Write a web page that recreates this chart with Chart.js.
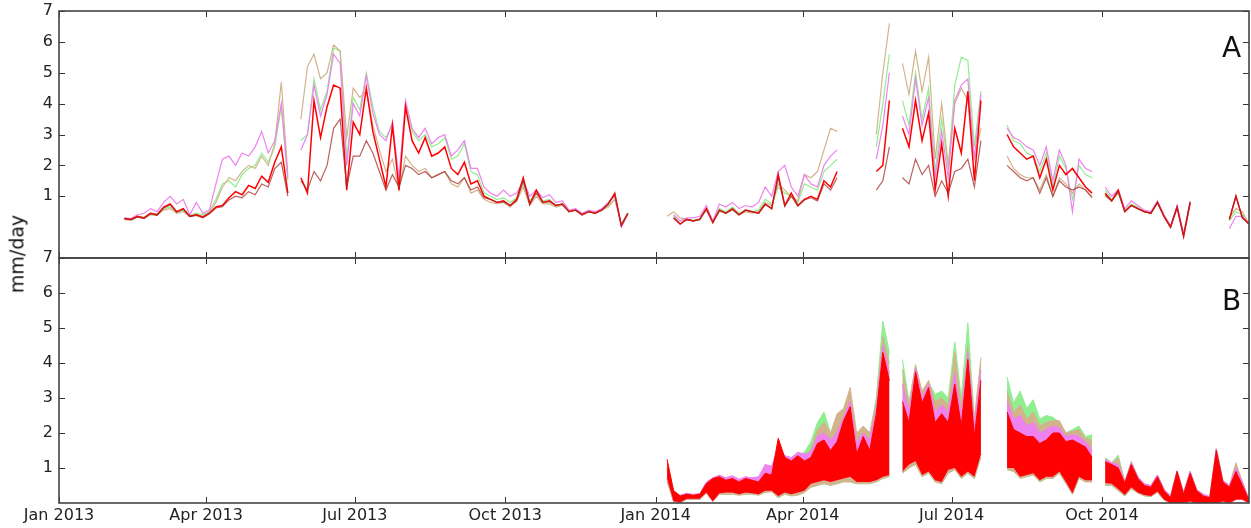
<!DOCTYPE html>
<html><head><meta charset="utf-8">
<script src="https://cdn.jsdelivr.net/npm/chart.js@4.4.1/dist/chart.umd.min.js"></script>
<style>
html,body{margin:0;padding:0;background:#fff;}
#wrap{position:relative;width:1251px;height:528px;overflow:hidden;font-family:"DejaVu Sans",sans-serif;}
canvas{position:absolute;left:0;}
#cA{top:-10px;width:1251px;height:290px;}
#cB{top:240px;width:1251px;height:288px;}
.lbl{position:absolute;line-height:1;color:#111;white-space:nowrap;}
</style></head><body>
<div id="wrap">
<canvas id="cA" width="1251" height="290"></canvas>
<canvas id="cB" width="1251" height="288"></canvas>
<div class="lbl" style="left:1222px;top:34px;font-size:28px;">A</div>
<div class="lbl" style="left:1222px;top:287px;font-size:28px;">B</div>
<div class="lbl" style="left:17px;top:254px;font-size:19px;transform:translate(-50%,-50%) rotate(-90deg);">mm/day</div>
</div>
<script>
const N = null;
// x categories: day number since 1 Jan 2013
const monthDays = [0, 90, 181, 273, 365, 455, 546, 638];
const monthLabels = ['Jan 2013','Apr 2013','Jul 2013','Oct 2013','Jan 2014','Apr 2014','Jul 2014','Oct 2014'];
const yTickVals = [1,2,3,4,5,6,7];
const daysA = Array.from({length:173}, (_, i) => 40 + 4*i);   // 40..728
const daysB = Array.from({length:90}, (_, i) => 372 + 4*i);   // 372..728

// Panel A series (mm/day)
const redA = [0.28,0.25,0.35,0.30,0.45,0.40,0.65,0.75,0.50,0.60, 0.35,0.40,0.32,0.45,0.65,0.70,0.95,1.15,1.05,1.35, 1.25,1.65,1.45,2.10,2.60,1.10,
 N,
 1.6,1.1,4.1,2.9,3.9,4.6,4.5,1.2,3.4,3.0, 4.5,3.1,2.2,1.3,3.3,1.2,3.9,2.8,2.4,2.9, 2.3,2.4,2.6,1.9,1.7,2.1,1.4,1.5,
 1.0,0.9,0.8,0.85,0.7,0.9,1.6,0.75,1.2,0.8, 0.85,0.7,0.75,0.5,0.55,0.4,0.5,0.45,0.55,0.75, 1.1,0.05,0.45,
 N,N,N,N,N,
 N,0.3,0.1,0.25,0.2,0.25,0.6,0.15,0.55,0.45, 0.6,0.4,0.55,0.5,0.45,0.75,0.6,1.7,0.7,1.1, 0.7,0.9,1.0,0.9,1.5,1.3,1.8,
 N,N,N,N,N,
 1.8,2.0,4.1,N,3.2,2.6,4.1,2.8,3.7,1.2, 2.7,1.0,3.2,2.4,4.4,1.5,4.1,
 N,N,N,
 3.0,2.6,2.4,2.2,2.3,1.6,2.2,1.2,2.0,1.7, 1.9,1.6,1.3,1.1,
 N,
 1.1,0.85,1.2,0.5,0.7,0.6,0.5,0.45,0.8,0.35, 0.0,0.65,-0.3,0.8,
 N,N,N,N,N,
 0.25,1.0,0.3,0.1];
const brownA = [0.27,0.24,0.33,0.28,0.43,0.38,0.62,0.72,0.48,0.58, 0.34,0.38,0.30,0.43,0.62,0.66,0.88,1.0,0.95,1.15, 1.05,1.4,1.3,1.9,2.1,1.0,
 N,
 1.5,1.2,1.8,1.5,2.0,3.2,3.5,1.3,2.3,2.3, 2.8,2.4,1.8,1.2,1.7,1.3,2.0,1.9,1.7,1.8, 1.6,1.7,1.8,1.5,1.4,1.6,1.2,1.3,
 0.95,0.9,0.8,0.82,0.7,0.85,1.5,0.75,1.1,0.8, 0.82,0.7,0.75,0.5,0.55,0.4,0.5,0.45,0.55,0.75, 1.05,0.05,0.45,
 N,N,N,N,N,
 N,0.3,0.1,0.25,0.2,0.25,0.58,0.15,0.55,0.45, 0.58,0.4,0.55,0.5,0.45,0.73,0.6,1.6,0.68,1.0, 0.68,0.88,0.95,0.85,1.4,1.2,1.6,
 N,N,N,N,N,
 1.2,1.5,2.6,N,1.6,1.4,2.2,1.7,2.0,1.0, 1.5,1.1,1.8,1.9,2.2,1.3,2.8,
 N,N,N,
 2.0,1.8,1.6,1.5,1.6,1.1,1.6,1.0,1.5,1.3, 1.2,1.3,1.2,0.95,
 N,
 1.05,0.85,1.15,0.5,0.7,0.6,0.5,0.45,0.8,0.35, 0.0,0.65,-0.3,0.8,
 N,N,N,N,N,
 0.25,1.0,0.3,0.1];
const violetA = [0.30,0.28,0.40,0.45,0.60,0.50,0.80,1.00,0.75,0.90, 0.40,0.80,0.45,0.55,1.40,2.20,2.30,2.00,2.40,2.30, 2.60,3.10,2.40,2.80,4.00,1.60,
 N,
 2.5,3.0,4.6,3.6,4.3,5.6,5.3,2.0,4.0,3.6, 4.9,3.7,3.0,2.8,3.4,1.6,4.1,3.2,2.9,3.2, 2.7,2.9,3.0,2.3,2.5,2.8,1.9,1.9,
 1.3,1.1,1.0,1.2,1.0,1.1,1.5,1.0,1.2,0.95, 1.05,0.8,0.85,0.55,0.6,0.45,0.55,0.5,0.6,0.8, 1.0,0.0,0.4,
 N,N,N,N,N,
 N,0.4,0.2,0.3,0.3,0.35,0.7,0.2,0.75,0.65, 0.8,0.6,0.7,0.65,0.8,1.3,1.0,1.8,2.0,1.3, 1.0,1.7,1.4,1.3,2.0,2.3,2.5,
 N,N,N,N,N,
 2.2,3.3,5.0,N,3.6,3.0,4.8,3.3,4.2,1.6, 3.1,1.6,4.1,4.6,4.8,2.2,4.3,
 N,N,N,
 3.2,2.9,2.8,2.6,2.5,2.0,2.6,1.5,2.5,2.0, 0.5,2.2,1.9,1.8,
 N,
 1.3,1.0,1.2,0.6,0.85,0.7,0.55,0.5,0.85,0.4, 0.05,0.7,-0.2,0.85,
 N,N,N,N,N,
 -0.05,0.35,0.35,0.1];
const greenA = [0.27,0.25,0.35,0.32,0.45,0.42,0.6,0.65,0.5,0.55, 0.38,0.45,0.4,0.5,0.9,1.4,1.5,1.3,1.7,1.9, 2.0,2.4,2.1,2.6,3.9,1.5,
 N,
 2.8,3.0,4.8,3.8,4.4,5.8,5.7,2.2,4.2,3.8, 5.0,3.9,3.1,2.9,3.3,1.5,4.0,3.1,2.8,3.0, 2.6,2.7,2.9,2.2,2.3,2.7,1.8,1.7,
 1.1,1.0,0.9,0.95,0.8,0.95,1.4,0.85,1.1,0.85, 0.9,0.72,0.75,0.5,0.55,0.42,0.5,0.45,0.55,0.7, 0.9,0.1,0.45,
 N,N,N,N,N,
 N,0.35,0.2,0.25,0.22,0.28,0.6,0.2,0.6,0.5, 0.65,0.45,0.55,0.5,0.55,0.9,0.75,1.3,1.1,1.0, 0.8,1.4,1.3,1.2,1.8,2.0,2.2,
 N,N,N,N,N,
 2.6,4.0,5.6,N,4.1,3.3,5.0,3.5,4.5,1.8, 3.5,1.9,4.6,5.5,5.4,2.6,4.4,
 N,N,N,
 3.3,2.8,2.7,2.4,2.3,1.8,2.4,1.3,2.3,1.9, 0.9,2.0,1.7,1.6,
 N,
 1.2,0.9,1.1,0.55,0.75,0.65,0.5,0.45,0.8,0.35, 0.0,0.65,-0.25,0.8,
 N,N,N,N,N,
 0.2,0.5,0.4,0.12];
const tanA = [0.25,0.22,0.32,0.28,0.4,0.38,0.55,0.6,0.45,0.5, 0.35,0.42,0.35,0.48,0.8,1.3,1.6,1.5,1.8,2.0, 1.9,2.3,2.0,2.7,4.7,1.7,
 N,
 3.5,5.2,5.6,4.8,5.0,5.9,5.7,2.9,4.5,4.2, 4.4,3.3,2.5,1.8,2.2,1.2,2.3,2.0,1.8,1.9, 1.6,1.7,1.8,1.4,1.3,1.6,1.1,1.2,
 0.9,0.8,0.75,0.8,0.65,0.85,1.3,0.7,1.0,0.75, 0.75,0.65,0.7,0.5,0.55,0.45,0.5,0.48,0.55,0.65, 0.9,0.1,0.45,
 N,N,N,N,N,
 0.35,0.5,0.3,0.25,0.2,0.25,0.55,0.2,0.5,0.45, 0.55,0.4,0.5,0.45,0.5,0.8,0.7,1.4,1.2,1.0, 0.85,1.7,1.6,1.8,2.5,3.2,3.1,
 N,N,N,N,N,
 3.0,5.0,6.6,N,5.3,4.3,5.7,4.4,5.5,2.2, 4.0,2.0,4.0,4.5,4.1,2.2,3.2,
 N,N,N,
 2.3,1.9,1.7,1.6,1.6,1.2,1.7,1.0,1.6,1.4, 1.1,1.4,1.2,1.0,
 N,
 1.0,0.85,1.1,0.55,0.7,0.6,0.5,0.45,0.8,0.35, 0.0,0.6,-0.25,0.75,
 N,N,N,N,N,
 0.3,0.6,0.5,0.1];

// Panel B: upper / lower envelopes of the sub-daily series (mm/day)
const redHiB = [1.25,0.35,0.2,0.25,0.22,0.25,0.55,0.7,0.75,0.65,
 0.7,0.6,0.7,0.65,0.6,0.85,0.8,1.85,1.3,1.2,
 1.35,1.2,1.3,1.7,1.8,1.5,1.75,2.35,2.75,1.4,
 1.9,1.5,2.55,4.3,3.5,N,2.9,2.3,3.75,2.85,
 3.3,2.3,2.55,2.3,3.4,2.2,4.1,1.9,3.5,N,
 N,N,2.6,2.1,2.0,1.9,1.9,1.7,1.8,2.0,
 2.0,1.75,1.8,1.7,1.6,1.3,N,1.18,1.1,1.0,
 0.57,1.1,0.7,0.5,0.45,0.75,0.35,0.15,0.9,0.25,
 0.85,0.35,0.2,0.15,1.5,0.6,0.45,0.9,0.5,0.08];
const redLoB = [0.7,0.05,0.02,0.12,0.12,0.12,0.3,0.05,0.28,0.3,
 0.3,0.25,0.3,0.28,0.25,0.35,0.35,0.2,0.3,0.25,
 0.3,0.35,0.55,0.6,0.65,0.6,0.65,0.7,0.75,0.6,
 0.6,0.6,0.65,0.75,0.8,N,0.9,1.1,1.2,0.8,
 0.9,0.65,0.6,0.95,1.0,0.75,0.9,0.75,1.4,N,
 N,N,1.0,1.0,0.75,0.8,0.85,0.65,0.75,0.75,
 0.9,0.6,0.28,0.75,0.65,0.65,N,0.57,0.55,0.4,
 0.23,0.45,0.3,0.23,0.2,0.33,0.1,0.0,0.0,0.0,
 0.05,0,0,0,0,0.05,0,0.1,0.1,0];
const violetHiB = [1.0,0.35,0.22,0.28,0.25,0.27,0.6,0.72,0.8,0.72,
 0.78,0.68,0.75,0.72,0.75,1.1,1.05,1.6,1.35,1.3,
 1.45,1.4,1.45,1.9,2.0,1.8,2.0,2.45,2.9,1.7,
 2.0,1.8,2.7,4.5,3.7,N,3.4,2.6,3.85,3.0,
 3.4,2.6,2.8,2.6,3.7,2.5,4.3,2.2,3.8,N,
 N,N,2.9,2.4,2.5,2.2,2.3,2.0,2.1,2.2,
 2.15,1.9,1.95,1.9,1.75,1.5,N,1.25,1.15,1.1,
 0.6,1.15,0.75,0.55,0.5,0.8,0.4,0.2,0.92,0.3,
 0.9,0.38,0.25,0.18,1.55,0.65,0.5,1.0,0.6,0.1];
const tanHiB = [0.95,0.3,0.2,0.25,0.22,0.25,0.55,0.7,0.72,0.65,
 0.7,0.6,0.68,0.65,0.65,0.9,0.85,1.7,1.3,1.25,
 1.4,1.3,1.55,2.1,2.3,2.0,2.55,2.7,3.3,2.0,
 2.2,2.0,2.9,4.75,4.0,N,3.8,2.8,3.95,3.2,
 3.5,2.9,3.0,2.8,4.3,2.8,4.45,2.4,4.15,N,
 N,N,3.2,2.6,2.8,2.4,2.6,2.2,2.3,2.35,
 2.35,2.0,2.05,2.1,1.85,1.8,N,1.25,1.15,1.3,
 0.6,1.18,0.75,0.55,0.5,0.8,0.4,0.2,0.92,0.3,
 0.9,0.38,0.25,0.18,1.55,0.65,0.5,1.15,0.6,0.1];
const greenHiB = [0.95,0.3,0.2,0.25,0.22,0.25,0.55,0.7,0.72,0.65,
 0.7,0.6,0.68,0.65,0.62,0.85,0.8,1.5,1.3,1.2,
 1.35,1.45,1.75,2.3,2.6,2.0,2.3,2.5,3.0,1.9,
 2.1,2.0,3.0,5.2,4.3,N,4.1,2.9,3.9,3.1,
 3.45,3.1,3.2,3.0,4.6,3.0,5.15,2.4,4.0,N,
 N,N,3.6,2.85,3.2,2.7,2.95,2.4,2.5,2.45,
 2.3,2.0,2.1,2.2,1.9,1.95,N,1.3,1.15,1.37,
 0.6,1.18,0.75,0.52,0.5,0.8,0.4,0.2,0.92,0.3,
 0.9,0.38,0.25,0.18,1.55,0.65,0.5,1.1,0.6,0.1];
const tanLoB = [0.6,0.05,0,0.1,0.1,0.1,0.28,0.05,0.25,0.25,
 0.25,0.22,0.25,0.25,0.22,0.3,0.32,0.15,0.25,0.2,
 0.22,0.3,0.45,0.5,0.55,0.5,0.55,0.6,0.6,0.55,
 0.55,0.55,0.6,0.7,0.75,N,0.85,1.0,1.1,0.75,
 0.85,0.6,0.55,0.85,0.95,0.7,0.85,0.7,1.3,N,
 N,N,0.95,0.9,0.7,0.75,0.8,0.6,0.7,0.7,
 0.85,0.55,0.25,0.7,0.6,0.6,N,0.5,0.5,0.35,
 0.2,0.4,0.28,0.2,0.18,0.3,0.08,0,0,0,
 0.05,0,0,0,0,0.05,0,0.1,0.1,0];

const C = {red:'#ff0000', brown:'rgba(165,42,42,0.75)', violet:'#ee82ee', tan:'#d2b48c', green:'#90ee90'};
const FONT = {family:'"DejaVu Sans", sans-serif', size:16};

function pts(days, vals){ return days.map((d,i)=>({x:d, y: vals[i] === undefined ? null : vals[i]})); }

const framePlugin = {
  id:'frame',
  afterDraw(chart){
    const {ctx, chartArea:a, scales} = chart;
    const x = scales.x, y = scales.y;
    ctx.save();
    ctx.strokeStyle = '#333';
    ctx.lineWidth = 1;
    ctx.beginPath();
    monthDays.forEach(d=>{
      const p = Math.round(x.getPixelForValue(d)) + 0.5;
      ctx.moveTo(p, a.top); ctx.lineTo(p, a.top + 6);
      ctx.moveTo(p, a.bottom); ctx.lineTo(p, a.bottom - 6);
    });
    yTickVals.forEach(v=>{
      const p = Math.round(y.getPixelForValue(v)) + 0.5;
      ctx.moveTo(a.left, p); ctx.lineTo(a.left + 6, p);
      ctx.moveTo(a.right, p); ctx.lineTo(a.right - 6, p);
    });
    ctx.stroke();
    ctx.strokeStyle = '#444';
    ctx.lineWidth = 1.6;
    ctx.strokeRect(a.left, a.top, a.right - a.left, a.bottom - a.top);
    ctx.restore();
  }
};

function yAxis(min){
  return {
    type:'linear', min:min, max:7,
    afterFit(s){ s.width = 59; },
    afterBuildTicks(s){ s.ticks = yTickVals.map(v=>({value:v})); },
    grid:{display:false, drawTicks:false}, border:{display:false},
    ticks:{font:FONT, color:'#222', padding:6}
  };
}

function lineDs(label, days, vals, color, w){
  return {label, data:pts(days, vals), borderColor:color, backgroundColor:color, borderWidth:w, pointRadius:0, fill:false, tension:0, spanGaps:false};
}

new Chart(document.getElementById('cA'), {
  type:'line',
  data:{datasets:[
    lineDs('brown', daysA, brownA, C.brown, 1.2),
    lineDs('red', daysA, redA, C.red, 1.5),
    lineDs('violet', daysA, violetA, C.violet, 1.2),
    lineDs('tan', daysA, tanA, C.tan, 1.2),
    lineDs('green', daysA, greenA, C.green, 1.2)
  ]},
  options:{
    responsive:false, animation:false, devicePixelRatio:1,
    layout:{padding:{top:21, right:2, bottom:22, left:0}},
    plugins:{legend:{display:false}, tooltip:{enabled:false}},
    scales:{
      x:{type:'linear', min:0, max:728, display:false},
      y:yAxis(-1)
    }
  },
  plugins:[framePlugin]
});

function bandDs(label, vals, color, target){
  return {label, data:pts(daysB, vals), borderColor:color, backgroundColor:color, borderWidth:1, pointRadius:0, fill:target, tension:0, spanGaps:false};
}

new Chart(document.getElementById('cB'), {
  type:'line',
  data:{datasets:[
    bandDs('red', redHiB, C.red, 4),
    bandDs('violet', violetHiB, C.violet, 4),
    bandDs('tan', tanHiB, C.tan, 5),
    bandDs('green', greenHiB, C.green, 5),
    bandDs('red low', redLoB, C.red, false),
    bandDs('tan low', tanLoB, C.tan, false)
  ]},
  options:{
    responsive:false, animation:false, devicePixelRatio:1,
    layout:{padding:{top:18, right:2, bottom:0, left:0}},
    plugins:{legend:{display:false}, tooltip:{enabled:false}},
    scales:{
      x:{type:'linear', min:0, max:728,
        afterFit(s){ s.height = 25; },
        afterBuildTicks(s){ s.ticks = monthDays.map(v=>({value:v})); },
        grid:{display:false, drawTicks:false}, border:{display:false},
        ticks:{autoSkip:false, maxRotation:0, minRotation:0, padding:3, font:FONT, color:'#222',
          callback:(v, i)=> monthLabels[i]}
      },
      y:yAxis(0)
    }
  },
  plugins:[framePlugin]
});
</script>
</body></html>
